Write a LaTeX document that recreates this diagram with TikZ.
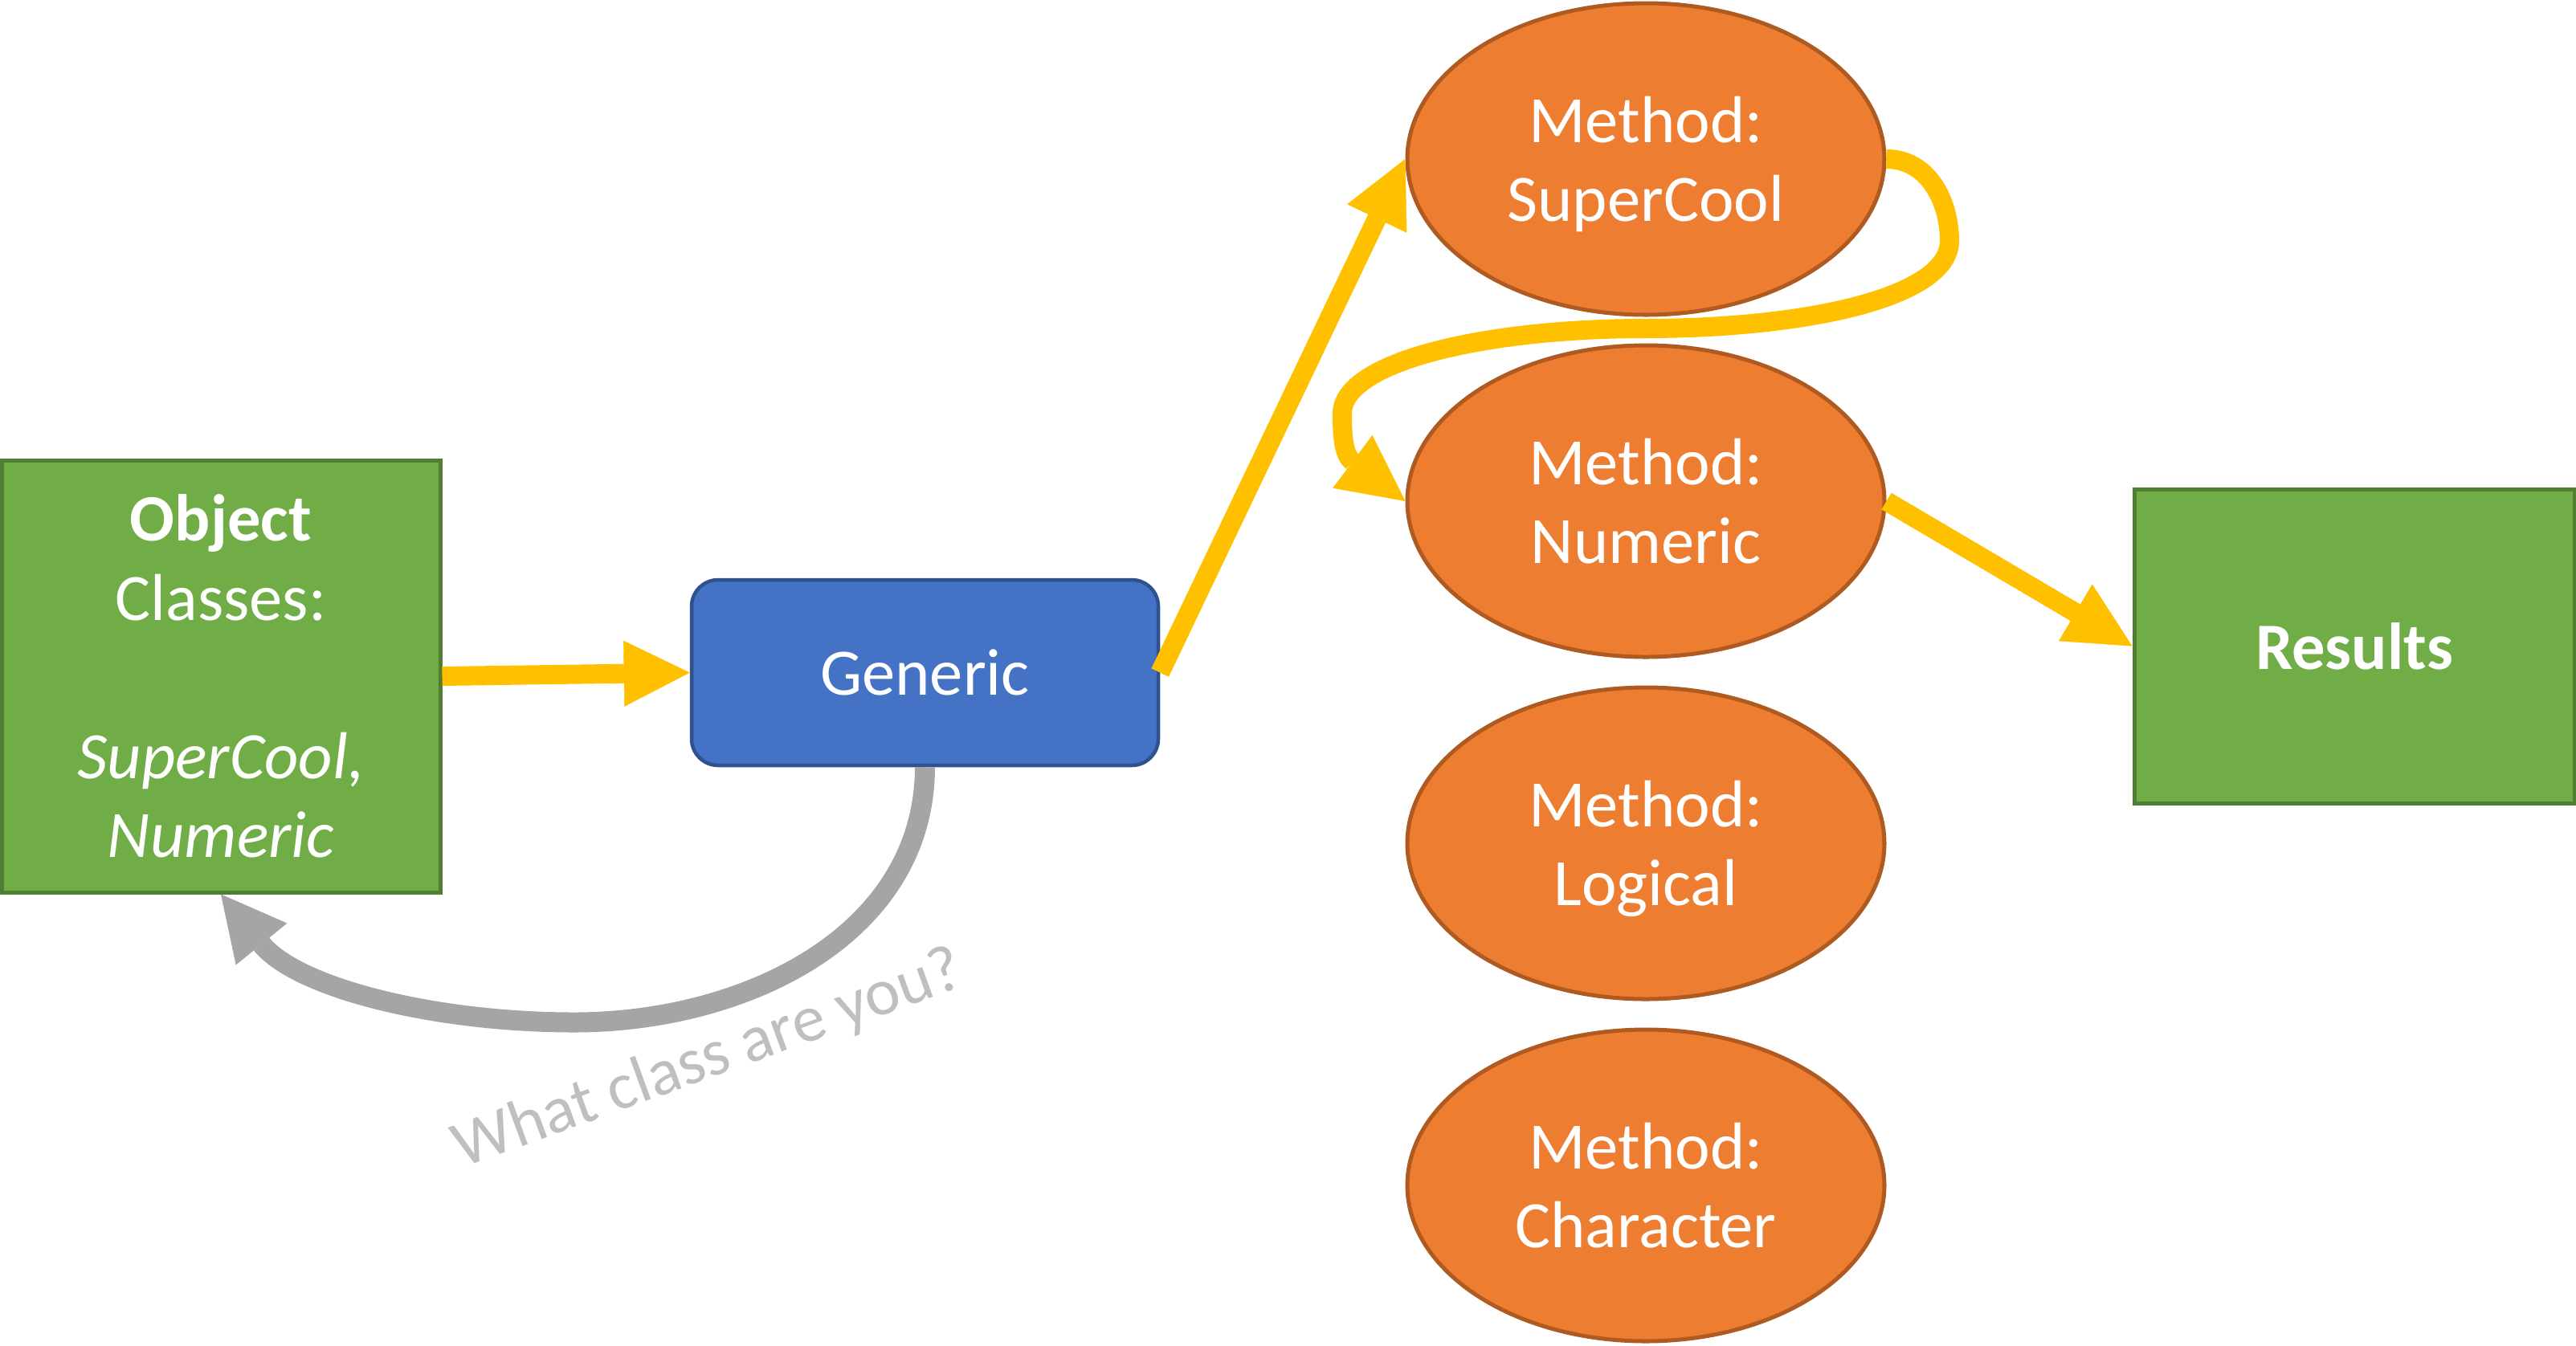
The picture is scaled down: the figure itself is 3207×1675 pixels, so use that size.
\documentclass[tikz,border=0pt]{standalone}
\usepackage{fontspec}
\setmainfont{Carlito}
\usetikzlibrary{arrows.meta,shapes.geometric}
\definecolor{cyellow}{HTML}{FFC000}
\definecolor{corange}{HTML}{ED7D31}
\definecolor{corangeb}{HTML}{AE5A21}
\definecolor{cgreen}{HTML}{70AD47}
\definecolor{cgreenb}{HTML}{507E32}
\definecolor{cblue}{HTML}{4472C4}
\definecolor{cblueb}{HTML}{2F528F}
\definecolor{cgrey}{HTML}{A5A5A5}
\definecolor{clabel}{HTML}{BFBFBF}
\begin{document}
\begin{tikzpicture}[x=0.1mm, y=-0.1mm,
  txt/.style={text=white, font=\fontsize{23.5}{28}\selectfont, align=center},
  greenbox/.style={txt, rectangle, draw=cgreenb, fill=cgreen, line width=0.5mm, inner sep=0pt},
  bluebox/.style={txt, rectangle, rounded corners=3.3mm, draw=cblueb, fill=cblue, line width=0.45mm, inner sep=0pt},
  methodnode/.style={txt, ellipse, draw=corangeb, fill=corange, line width=0.5mm, minimum width=59.4mm, minimum height=38.8mm, inner sep=0pt, text depth=0pt},
  flow/.style={draw=cyellow, line width=2.4mm, -{Triangle[length=8.2mm,width=8.2mm,line width=0.1pt]}},
  greyflow/.style={draw=cgrey, line width=2.5mm, -{Triangle[length=8mm,width=8.2mm,line width=0.1pt]}},
  asklabel/.style={text=clabel, font=\fontsize{23.5}{28}\selectfont}
]
\useasboundingbox (0,0) rectangle (3207,1675);

\node[greenbox, minimum width=54.6mm, minimum height=53.8mm] (obj) at (275,842)
  {\textbf{Object}\\Classes:\\\mbox{}\\\textit{SuperCool,}\\\textit{Numeric}};
\node[bluebox, minimum width=58.1mm, minimum height=23.1mm] (gen) at (1151.5,837.5) {Generic};
\node[methodnode] (sc) at (2049,198) {Method:\\SuperCool};
\node[methodnode] (num) at (2049,624) {Method:\\Numeric};
\node[methodnode] (log) at (2049,1050) {Method:\\Logical};
\node[methodnode] (chr) at (2049,1476) {Method:\\Character};
\node[greenbox, minimum width=54.8mm, minimum height=39.1mm] (res) at (2931,804.5) {\textbf{Results}};

\draw[flow] (obj.east) -- (gen.west);
\draw[flow] (gen.east) -- (sc.west);
\draw[flow] (sc.east) .. controls (2400,198) and (2427,250) .. (2427,300)
  .. controls (2427,370) and (2250,409) .. (2048,409)
  .. controls (1850,409) and (1671,450) .. (1671,515)
  .. controls (1671,540) and (1672,566) .. (num.west);
\draw[flow] (num.east) -- (res.west);
\draw[greyflow] (gen.south) .. controls (1151,1165) and (927,1273) .. (715,1273)
  .. controls (540,1273) and (370,1230) .. (obj.south);

\node[asklabel, rotate=20] (ask) at (882,1320) {What class are you?};
\end{tikzpicture}
\end{document}
